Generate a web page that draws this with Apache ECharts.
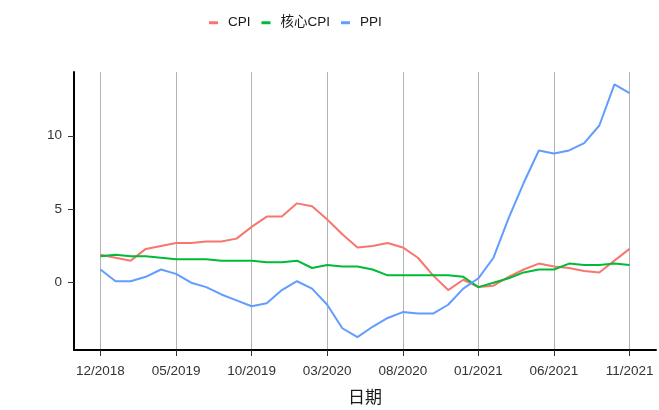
<!DOCTYPE html>
<html>
<head>
<meta charset="utf-8">
<script src="https://cdn.jsdelivr.net/npm/echarts@6/dist/echarts.min.js"></script>
<style>
    html,body{margin:0;padding:0;background:#fff;}
    #chart{width:659px;height:410px;}
</style>
</head>
<body>
<div id="chart"></div>
<script>
    // 月份 12/2018 - 11/2021
    const months = ['12/2018','01/2019','02/2019','03/2019','04/2019','05/2019','06/2019','07/2019','08/2019','09/2019','10/2019','11/2019',
        '12/2019','01/2020','02/2020','03/2020','04/2020','05/2020','06/2020','07/2020','08/2020','09/2020','10/2020','11/2020',
        '12/2020','01/2021','02/2021','03/2021','04/2021','05/2021','06/2021','07/2021','08/2021','09/2021','10/2021','11/2021'];
    const cpi = [1.9,1.7,1.5,2.3,2.5,2.7,2.7,2.8,2.8,3.0,3.8,4.5,4.5,5.4,5.2,4.3,3.3,2.4,2.5,2.7,2.4,1.7,0.5,-0.5,0.2,-0.3,-0.2,0.4,0.9,1.3,1.1,1.0,0.8,0.7,1.5,2.3];
    const coreCpi = [1.8,1.9,1.8,1.8,1.7,1.6,1.6,1.6,1.5,1.5,1.5,1.4,1.4,1.5,1.0,1.2,1.1,1.1,0.9,0.5,0.5,0.5,0.5,0.5,0.4,-0.3,0.0,0.3,0.7,0.9,0.9,1.3,1.2,1.2,1.3,1.2];
    const ppi = [0.9,0.1,0.1,0.4,0.9,0.6,0.0,-0.3,-0.8,-1.2,-1.6,-1.4,-0.5,0.1,-0.4,-1.5,-3.1,-3.7,-3.0,-2.4,-2.0,-2.1,-2.1,-1.5,-0.4,0.3,1.7,4.4,6.8,9.0,8.8,9.0,9.5,10.7,13.5,12.9];
    const xTicks = [0,5,10,15,20,25,30,35];
    const yTicks = [0,5,10];

    const toPairs = arr => arr.map((v,i) => [i, v]);
    const labelColor = '#333';
    const font = 'Liberation Sans, Arial, Noto Sans CJK SC';

    const chart = echarts.init(document.getElementById('chart'));
    chart.setOption({
        animation:false,
        textStyle:{fontFamily:font},
        color:['#F8766D','#00BA38','#619CFF'],
        legend:{
            left:204,
            top:11,
            icon:'rect',
            itemWidth:9,
            itemHeight:3,
            itemGap:11,
            textStyle:{fontSize:13.5,color:'#1a1a1a',padding:[0,0,0,5],fontFamily:font},
            data:['CPI','核心CPI','PPI']
        },
        grid:{left:74,right:3,top:72,bottom:56,containLabel:false},
        xAxis:{
            type:'value',
            min:-1.75,
            max:36.75,
            name:'日期',
            nameLocation:'middle',
            nameGap:38,
            nameTextStyle:{fontSize:17,color:'#1a1a1a',fontFamily:'Noto Sans CJK SC'},
            axisLine:{show:true,onZero:false,lineStyle:{color:'#000',width:2}},
            axisTick:{show:true,customValues:xTicks,length:6,lineStyle:{color:'#333',width:1}},
            axisLabel:{
                customValues:xTicks,
                color:labelColor,
                fontSize:13.5,
                margin:15,
                formatter:v => months[Math.round(v)] || ''
            },
            splitLine:{show:true,lineStyle:{color:'#b3b3b3',width:1}}
        },
        yAxis:{
            type:'value',
            min:-4.58,
            max:14.34,
            axisLine:{show:true,onZero:false,lineStyle:{color:'#000',width:2}},
            axisTick:{show:true,customValues:yTicks,length:6,lineStyle:{color:'#333',width:1}},
            axisLabel:{customValues:yTicks,color:labelColor,fontSize:13.5,margin:12},
            splitLine:{show:false}
        },
        series:[
            {name:'CPI',type:'line',data:toPairs(cpi),showSymbol:false,symbol:'none',lineStyle:{width:2}},
            {name:'核心CPI',type:'line',data:toPairs(coreCpi),showSymbol:false,symbol:'none',lineStyle:{width:2}},
            {name:'PPI',type:'line',data:toPairs(ppi),showSymbol:false,symbol:'none',lineStyle:{width:2}}
        ]
    });
</script>
</body>
</html>
